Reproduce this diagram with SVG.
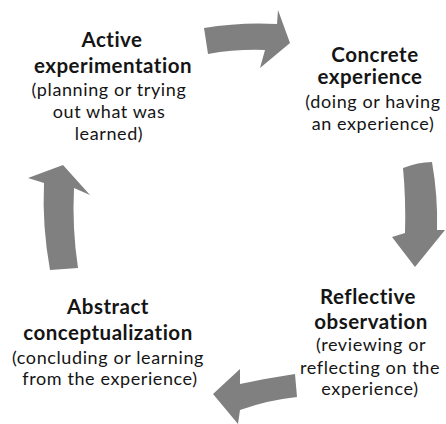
<svg xmlns="http://www.w3.org/2000/svg" width="446" height="424" viewBox="0 0 446 424">
<style>
.t{font-family:Lato,"Open Sans","Liberation Sans",sans-serif;fill:#151515;text-anchor:middle}
.b{font-weight:bold;font-size:20.5px;letter-spacing:0.5px}
.r{font-size:18px;letter-spacing:0.6px}
.arr{fill:#808080}
</style>
<rect width="446" height="424" fill="#fff"/>
<g id="connectors">
<path class="arr" d="M204,28 Q240,22 277,24 L278,10 L290,43 L260,68 L265,50 Q236,49 208,54 Z"/>
<path class="arr" d="M403,168 Q418,162 432,162 Q438,196 437,230 L445,230 L415,267 L392,237 L405,233 Q406,200 403,168 Z"/>
<path class="arr" d="M295,374 Q268,378 240,384 L240,369 L213,394 L238,424 L240,410 Q268,400 297,397 Z"/>
<path class="arr" d="M50,270 Q42,226 44,183 L28,178 L63,165 L90,195 L74,188 Q72,228 78,268 Z"/>
</g>
<g id="active">
<text class="t b" x="112" y="47">Active</text>
<text class="t b" x="113" y="73">experimentation</text>
<text class="t r" x="109" y="96">(planning or trying</text>
<text class="t r" x="109" y="118">out what was</text>
<text class="t r" x="109" y="140">learned)</text>
</g>
<g id="concrete">
<text class="t b" x="375" y="62">Concrete</text>
<text class="t b" x="370" y="84">experience</text>
<text class="t r" x="373" y="108">(doing or having</text>
<text class="t r" x="373" y="130">an experience)</text>
</g>
<g id="reflective">
<text class="t b" x="368" y="304">Reflective</text>
<text class="t b" x="371" y="329">observation</text>
<text class="t r" x="371" y="351">(reviewing or</text>
<text class="t r" x="370" y="374">reflecting on the</text>
<text class="t r" x="370" y="395">experience)</text>
</g>
<g id="abstract">
<text class="t b" x="108" y="314">Abstract</text>
<text class="t b" x="108" y="340">conceptualization</text>
<text class="t r" x="108" y="364">(concluding or learning</text>
<text class="t r" x="110" y="385">from the experience)</text>
</g>
</svg>
